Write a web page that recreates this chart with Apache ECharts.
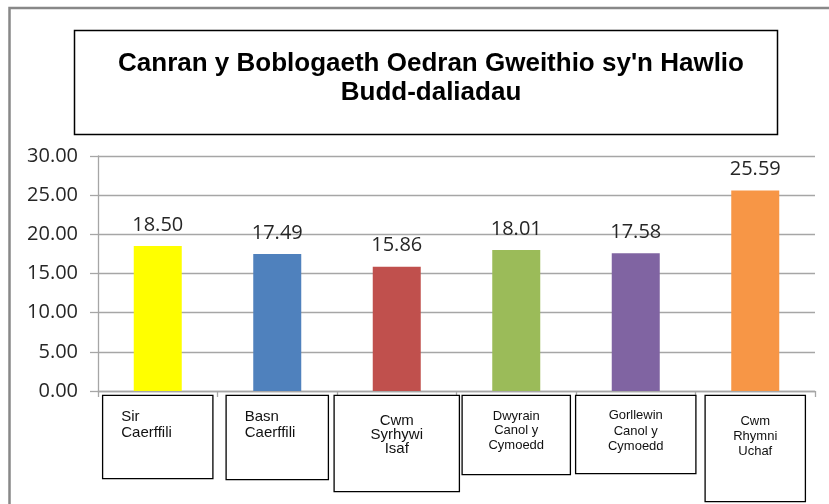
<!DOCTYPE html>
<html>
<head>
<meta charset="utf-8">
<script src="https://cdn.jsdelivr.net/npm/echarts@6/dist/echarts.min.js"></script>
<style>
html,body{margin:0;padding:0;background:#fff;}
#c{width:829px;height:504px;}
</style>
</head>
<body>
<div id="c"></div>
<script>
const titleText = "Canran y Boblogaeth Oedran Gweithio sy'n Hawlio\nBudd-daliadau";
const categories = ["Sir Caerffili", "Basn Caerffili", "Cwm Syrhywi Isaf", "Dwyrain Canol y Cymoedd", "Gorllewin Canol y Cymoedd", "Cwm Rhymni Uchaf"];
const categoryLines = [["Sir", "Caerffili"], ["Basn", "Caerffili"], ["Cwm", "Syrhywi", "Isaf"], ["Dwyrain", "Canol y", "Cymoedd"], ["Gorllewin", "Canol y", "Cymoedd"], ["Cwm", "Rhymni", "Uchaf"]];
const values = [18.50, 17.49, 15.86, 18.01, 17.58, 25.59];
const barColors = ["#FFFF00", "#4F81BD", "#C0504D", "#9BBB59", "#8064A2", "#F79646"];
const yMin = 0, yMax = 30, yStep = 5;

// label box styles per category (width, height, padding, font, line height, alignment)
const boxStyles = [
  {w:109, h:82, pad:[13,10,0,18], fs:15, lh:16, al:'left'},
  {w:101, h:83, pad:[13,10,0,18], fs:15, lh:16, al:'left'},
  {w:124, h:95, pad:[18,4,0,4], fs:15, lh:14, al:'center'},
  {w:107, h:78, pad:[12.75,4,0,4], fs:13, lh:14.5, al:'center'},
  {w:119, h:77, pad:[12,4,0,4], fs:13, lh:15.5, al:'center'},
  {w:99, h:105, pad:[17.5,4,0,4], fs:13, lh:15, al:'center'}
];

const xData = categories.map((c, i) => {
  const s = boxStyles[i];
  return {
    value: c,
    textStyle: {
      width: s.w - s.pad[1] - s.pad[3],
      height: s.h - s.pad[0] - s.pad[2],
      padding: s.pad,
      borderColor: '#000',
      borderWidth: 1.3,
      backgroundColor: '#fff',
      fontSize: s.fs,
      lineHeight: s.lh,
      rich: { t: { align: s.al, fontSize: s.fs, lineHeight: s.lh, fontFamily: 'Liberation Sans, Arial, sans-serif', color: '#111' } }
    }
  };
});

const chart = echarts.init(document.getElementById('c'), null, {renderer: 'canvas'});
chart.setOption({
  animation: false,
  backgroundColor: '#fff',
  title: {
    text: titleText,
    left: 426,
    top: 44,
    textAlign: 'center',
    textStyle: {fontFamily: 'Liberation Sans, Arial, sans-serif', fontWeight: 'bold', fontSize: 26, lineHeight: 29, color: '#000'}
  },
  graphic: [
    {type: 'rect', shape: {x: 9.5, y: 8, width: 900, height: 600}, style: {fill: 'none', stroke: '#888', lineWidth: 2.5}, silent: true, z: -1},
    {type: 'rect', shape: {x: 74.5, y: 30.5, width: 703, height: 104}, style: {fill: 'none', stroke: '#000', lineWidth: 1.5}, silent: true}
  ],
  grid: {left: 98, right: 14, top: 156, bottom: 113, containLabel: false},
  xAxis: {
    type: 'category',
    data: xData,
    boundaryGap: true,
    axisLine: {lineStyle: {color: '#A6A6A6', width: 1.3}},
    axisTick: {show: true, length: 6, inside: false, alignWithLabel: false, lineStyle: {color: '#A6A6A6', width: 1.3}},
    axisLabel: {
      interval: 0,
      margin: 5,
      hideOverlap: false,
      formatter: (v, i) => categoryLines[i].map(l => '{t|' + l + '}').join('\n'),
      fontFamily: 'Liberation Sans, Arial, sans-serif',
      color: '#111'
    }
  },
  yAxis: {
    type: 'value',
    min: yMin, max: yMax, interval: yStep,
    axisLine: {show: true, lineStyle: {color: '#A6A6A6', width: 1.3}},
    axisTick: {show: true, length: 8, lineStyle: {color: '#A6A6A6', width: 1.3}},
    splitLine: {show: true, lineStyle: {color: '#A6A6A6', width: 1.3}},
    axisLabel: {
      margin: 20,
      formatter: v => v.toFixed(2),
      fontFamily: 'Open Sans, sans-serif',
      fontSize: 20,
      color: '#262626'
    }
  },
  series: [{
    type: 'bar',
    data: values.map((v, i) => ({value: v, itemStyle: {color: barColors[i]}})),
    barWidth: 48,
    label: {
      show: true,
      position: 'top',
      distance: 11,
      formatter: p => p.value.toFixed(2),
      fontFamily: 'Open Sans, sans-serif',
      fontSize: 20,
      color: '#262626'
    }
  }]
});
</script>
</body>
</html>
